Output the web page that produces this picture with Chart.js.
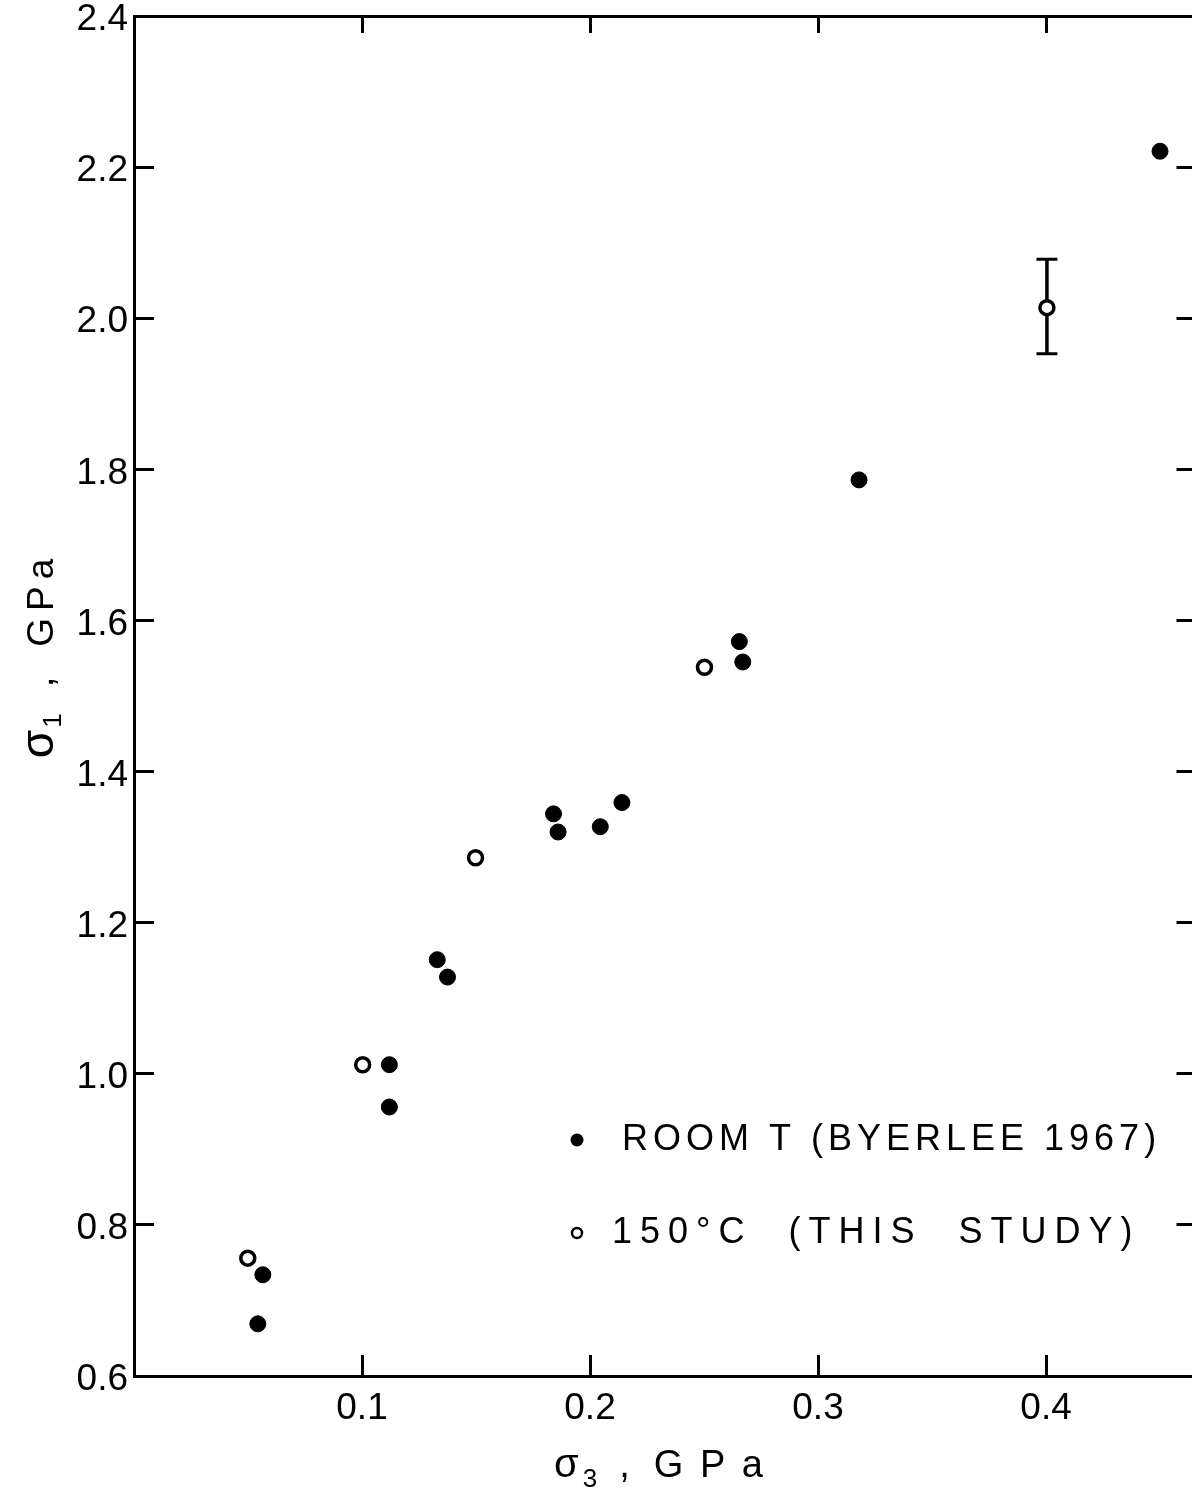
<!DOCTYPE html>
<html>
<head>
<meta charset="utf-8">
<script src="https://cdn.jsdelivr.net/npm/chart.js@4.4.0/dist/chart.umd.min.js"></script>
<style>
  html, body { margin: 0; padding: 0; background: #fff; overflow: hidden; }
  #wrap { width: 1192px; height: 1495px; overflow: hidden; }
</style>
</head>
<body>
<div id="wrap"><canvas id="plot" width="1210" height="1495"></canvas></div>
<script>
// room temperature data (Byerlee 1967), sigma3 and sigma1 in GPa
let roomX = [0.450, 0.318, 0.2655, 0.267, 0.214, 0.2045, 0.184, 0.186, 0.133, 0.1375, 0.112, 0.112, 0.0565, 0.0543];
let roomY = [2.221, 1.786, 1.572, 1.545, 1.359, 1.327, 1.344, 1.320, 1.151, 1.128, 1.012, 0.956, 0.734, 0.669];

// 150 C data (this study)
let hotX = [0.4004, 0.2502, 0.1498, 0.1003, 0.0499];
let hotY = [2.014, 1.538, 1.286, 1.012, 0.756];

// error bar on the highest 150 C point
let errX = [0.4004, 0.4004];
let errY = [1.953, 2.078];

let xTicks = [0.1, 0.2, 0.3, 0.4];
let yTicks = [0.6, 0.8, 1.0, 1.2, 1.4, 1.6, 1.8, 2.0, 2.2, 2.4];

let legendLabels = ['ROOM T (BYERLEE 1967)', '150\u00B0C  (THIS  STUDY)'];

let fam = '"Liberation Sans", Arial, sans-serif';
Chart.defaults.font.family = fam;
Chart.defaults.color = '#000';

function toPoints(xs, ys) {
  return xs.map((x, i) => ({ x: x, y: ys[i] }));
}

function fixTicks(list) {
  return function (scale) {
    scale.ticks = list.map(v => ({ value: v }));
  };
}

// fixed axis box sizes, no extra room for overhanging labels
function fixSize(prop, size) {
  return function (scale) {
    scale[prop] = size;
    scale.paddingTop = 0;
    scale.paddingBottom = 0;
    scale.paddingLeft = 0;
    scale.paddingRight = 0;
  };
}

// draws a row of text pieces (for the subscripts in the axis titles)
function drawParts(ctx, parts, cx, cy, angle) {
  ctx.save();
  ctx.translate(cx, cy);
  ctx.rotate(angle);
  ctx.fillStyle = '#000';
  ctx.textBaseline = 'alphabetic';
  let total = 0;
  parts.forEach(p => {
    ctx.font = p.size + 'px ' + fam;
    ctx.letterSpacing = (p.ls || 0) + 'px';
    total += ctx.measureText(p.text).width + (p.gap || 0);
  });
  let x = -total / 2;
  parts.forEach(p => {
    ctx.font = p.size + 'px ' + fam;
    ctx.letterSpacing = (p.ls || 0) + 'px';
    ctx.fillText(p.text, x, p.dy || 0);
    x += ctx.measureText(p.text).width + (p.gap || 0);
  });
  ctx.restore();
}

let extras = {
  id: 'extras',
  afterDraw(chart) {
    let ctx = chart.ctx;
    let area = chart.chartArea;

    // axis titles
    drawParts(ctx, [
      { text: '\u03C3', size: 40, gap: 4 },
      { text: '3', size: 26, dy: 10, gap: 22 },
      { text: ',', size: 38, gap: 24 },
      { text: 'G P a', size: 38, ls: 3 }
    ], 660, 1477, 0);

    drawParts(ctx, [
      { text: '\u03C3', size: 46, gap: 2 },
      { text: '1', size: 26, dy: 8, gap: 26 },
      { text: ',', size: 38, gap: 30 },
      { text: 'GPa', size: 37, ls: 7 }
    ], 53, 655, -Math.PI / 2);

    // legend
    let lx = area.left + 443;
    let rows = [area.top + 1124, area.top + 1217];
    ctx.save();
    ctx.fillStyle = '#000';
    ctx.strokeStyle = '#000';
    ctx.beginPath();
    ctx.arc(lx, rows[0], 6.5, 0, Math.PI * 2);
    ctx.fill();
    ctx.lineWidth = 2.5;
    ctx.beginPath();
    ctx.arc(lx, rows[1], 5, 0, Math.PI * 2);
    ctx.stroke();
    ctx.font = '36px ' + fam;
    ctx.textBaseline = 'middle';
    ctx.letterSpacing = '5px';
    ctx.fillText(legendLabels[0], lx + 45, rows[0]);
    ctx.letterSpacing = '8px';
    ctx.fillText(legendLabels[1], lx + 35, rows[1]);
    ctx.restore();
  }
};

let axisLine = { display: true, color: '#000', width: 3 };

let plotCtx = document.getElementById('plot').getContext('2d');
let plot = new Chart(plotCtx, {
  type: 'scatter',
  data: {
    datasets: [
      {
        label: legendLabels[1],
        data: toPoints(hotX, hotY),
        pointStyle: 'circle',
        pointRadius: 7,
        pointBorderWidth: 3.5,
        pointBackgroundColor: '#fff',
        pointBorderColor: '#000',
        order: 1
      },
      {
        label: legendLabels[0],
        data: toPoints(roomX, roomY),
        pointStyle: 'circle',
        pointRadius: 8,
        pointBorderWidth: 1,
        pointBackgroundColor: '#000',
        pointBorderColor: '#000',
        order: 2
      },
      {
        label: 'error',
        data: toPoints(errX, errY),
        showLine: true,
        borderColor: '#000',
        borderWidth: 3.5,
        pointStyle: 'line',
        pointRadius: 10.5,
        pointBorderWidth: 3,
        pointBorderColor: '#000',
        order: 3
      }
    ]
  },
  options: {
    responsive: false,
    animation: false,
    events: [],
    layout: { padding: 0 },
    plugins: {
      legend: { display: false },
      tooltip: { enabled: false }
    },
    scales: {
      x: {
        type: 'linear',
        position: 'bottom',
        min: 0,
        max: 0.466,
        afterBuildTicks: fixTicks(xTicks),
        afterFit: fixSize('height', 119),
        border: axisLine,
        grid: { display: true, drawOnChartArea: false, drawTicks: true, tickLength: -21, color: '#000', lineWidth: 3 },
        ticks: {
          padding: 32,
          font: { size: 37 },
          callback: v => v.toFixed(1)
        }
      },
      x2: {
        type: 'linear',
        axis: 'x',
        position: 'top',
        min: 0,
        max: 0.466,
        afterBuildTicks: fixTicks(xTicks),
        afterFit: fixSize('height', 16),
        border: axisLine,
        grid: { display: true, drawOnChartArea: false, drawTicks: true, tickLength: -17, color: '#000', lineWidth: 3 },
        ticks: { display: false }
      },
      y: {
        type: 'linear',
        position: 'left',
        min: 0.6,
        max: 2.4,
        afterBuildTicks: fixTicks(yTicks),
        afterFit: fixSize('width', 134),
        border: axisLine,
        grid: { display: true, drawOnChartArea: false, drawTicks: true, tickLength: -20, color: '#000', lineWidth: 3 },
        ticks: {
          padding: 26,
          labelOffset: 4,
          font: { size: 37 },
          callback: v => v.toFixed(1)
        }
      },
      y2: {
        type: 'linear',
        axis: 'y',
        position: 'right',
        min: 0.6,
        max: 2.4,
        afterBuildTicks: fixTicks(yTicks),
        afterFit: fixSize('width', 12),
        border: axisLine,
        grid: { display: true, drawOnChartArea: false, drawTicks: true, tickLength: -20, color: '#000', lineWidth: 3 },
        ticks: { display: false }
      }
    }
  },
  plugins: [extras]
});
</script>
</body>
</html>
